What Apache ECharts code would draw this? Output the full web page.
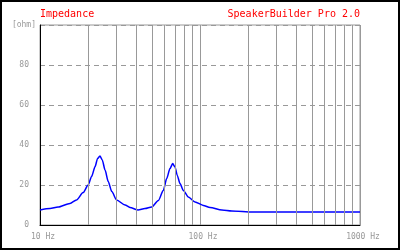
<!DOCTYPE html>
<html>
<head>
<meta charset="utf-8">
<script src="https://cdn.jsdelivr.net/npm/echarts@6/dist/echarts.min.js"></script>
<style>
html, body { margin: 0; padding: 0; background: #fff; }
#chart { width: 400px; height: 250px; }
</style>
</head>
<body>
<div id="chart"></div>
<script>
// impedance curve (Hz / ohm)
var freqHz = [10, 11.55, 12.96, 15.4, 16.9, 18.6, 20, 21, 22.1, 22.9, 23.7, 24.5, 25.5, 26.7, 28.1, 30.1, 34, 36.5, 41, 45.3, 49.9, 54.9, 59, 61.9, 64.9, 67.5, 69.8, 72.1, 75, 78.7, 84.5, 93.1, 105, 115.5, 137, 158, 214, 1000];
var impOhm = [7.5, 8.2, 9, 10.8, 12.5, 16.2, 20, 24.2, 29.2, 33.3, 34.5, 32.5, 27.5, 21.7, 16.7, 12.5, 10, 8.8, 7.5, 8.2, 9, 12.3, 17.3, 23.2, 28.2, 30.7, 29, 24.8, 20.7, 17.3, 14, 11.5, 9.8, 8.7, 7.5, 7, 6.5, 6.5];
// minor log grid lines
var gridFreqs = [20, 30, 40, 50, 60, 70, 80, 90, 200, 300, 400, 500, 600, 700, 800, 900];

var font = 'DejaVu Sans Mono';
var gray = '#999';

var curve = freqHz.map(function (f, i) { return [f, impOhm[i]]; });

var myChart = echarts.init(document.getElementById('chart'));
var option = {
    backgroundColor: '#fff',
    animation: false,
    title: [{
        text: 'Impedance',
        left: 40, top: 9, padding: 0,
        textStyle: { fontFamily: font, fontSize: 10, fontWeight: 'normal', color: '#ff0000' }
    }, {
        text: 'SpeakerBuilder Pro 2.0',
        right: 40, top: 9, padding: 0,
        textStyle: { fontFamily: font, fontSize: 10, fontWeight: 'normal', color: '#ff0000' }
    }],
    graphic: [{
        type: 'rect',
        shape: { x: 1, y: 1, width: 398, height: 248 },
        style: { fill: 'none', stroke: '#000', lineWidth: 2 },
        silent: true
    }],
    grid: {
        left: 40, right: 40, top: 25, bottom: 25,
        show: true, borderColor: gray, borderWidth: 1
    },
    xAxis: {
        type: 'log', logBase: 10, min: 10, max: 1000,
        axisLine: { lineStyle: { color: '#000', width: 1 } },
        axisTick: { show: false },
        axisLabel: {
            fontFamily: font, fontSize: 8, color: gray, margin: 8,
            padding: [0, 0, 0, 6],
            formatter: function (v) { return v + ' Hz'; }
        },
        splitLine: { show: true, lineStyle: { color: gray, width: 1 } }
    },
    yAxis: {
        type: 'value', min: 0, max: 100, interval: 20,
        name: '[ohm]', nameLocation: 'end', nameGap: 0,
        nameTextStyle: { fontFamily: font, fontSize: 8, color: gray, align: 'right', verticalAlign: 'middle', padding: [0, 4, 2, 0] },
        axisLine: { show: true, lineStyle: { color: '#000', width: 1 } },
        axisTick: { show: false },
        axisLabel: {
            fontFamily: font, fontSize: 8, color: gray, margin: 11,
            verticalAlign: 'middle', padding: [0, 0, 7, 0],
            formatter: function (v) { return v === 100 ? '' : v; }
        },
        splitLine: { show: true, lineStyle: { color: gray, width: 1, type: [5, 4] } }
    },
    series: [{
        name: 'grid',
        type: 'line',
        z: 1,
        data: [[10, 0]],
        symbol: 'none',
        lineStyle: { opacity: 0 },
        silent: true,
        markLine: {
            silent: true,
            symbol: 'none',
            label: { show: false },
            lineStyle: { color: gray, type: 'solid', width: 1 },
            data: gridFreqs.map(function (f) { return { xAxis: f }; })
        }
    }, {
        name: 'Impedance',
        type: 'line',
        z: 3,
        data: curve,
        symbol: 'none',
        smooth: 0.25,
        smoothMonotone: 'x',
        lineStyle: { color: '#0000ff', width: 1.5 }
    }]
};
myChart.setOption(option);
</script>
</body>
</html>
